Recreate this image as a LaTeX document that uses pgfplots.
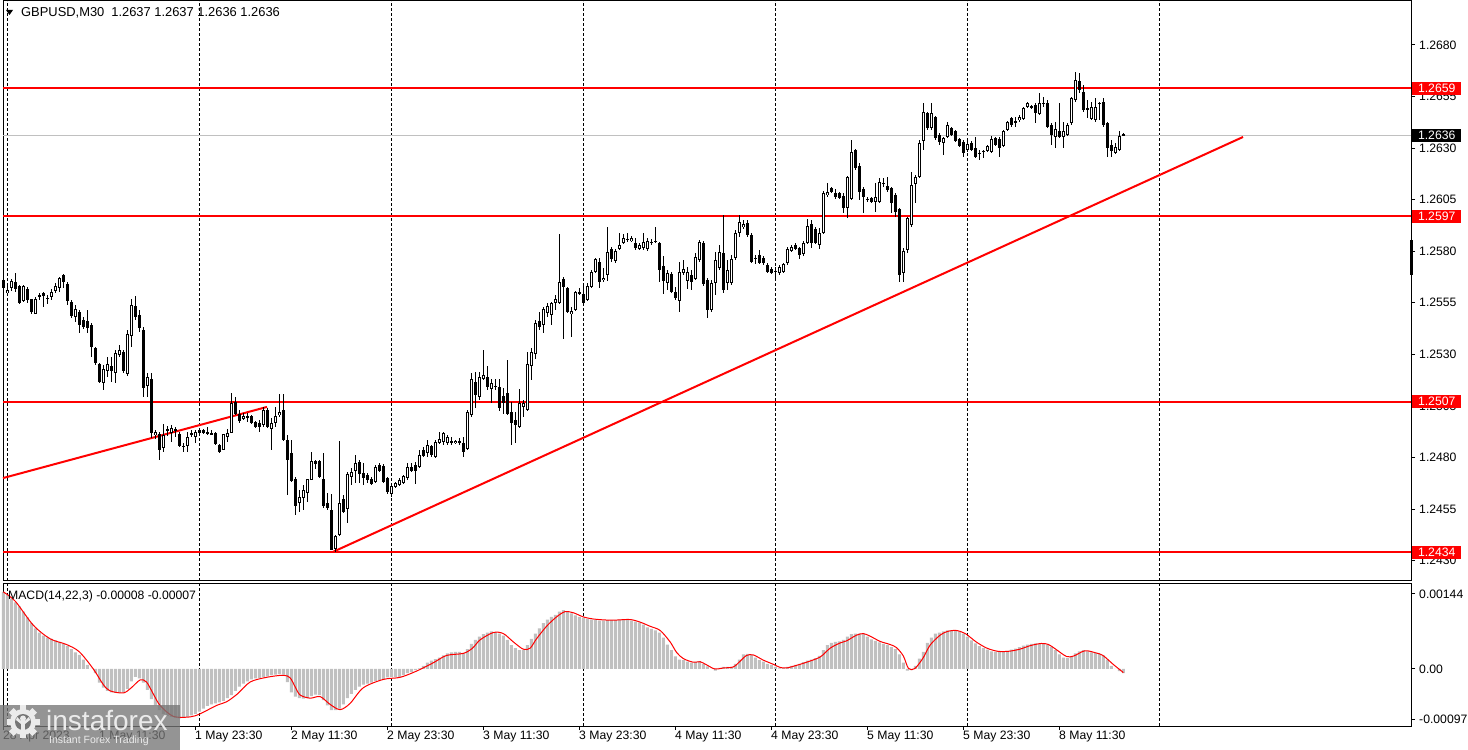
\documentclass[border=0pt]{standalone}
\usepackage{fontspec}
\setmainfont{Liberation Sans}
\usepackage{pgfplots}
\usepackage{pgfplotstable}
\pgfplotsset{compat=1.18}

\definecolor{mtred}{RGB}{255,0,0}
\definecolor{silverbar}{RGB}{192,192,192}
\definecolor{logobg}{RGB}{118,118,118}

% GBPUSD M30 bars: open high low close, and the MACD main value of each bar
\pgfplotstableread{
o h l c m
1.25661 1.25669 1.25615 1.25620 0.00148
1.25599 1.25644 1.25596 1.25612 0.00142
1.25620 1.25664 1.25609 1.25657 0.00135
1.25652 1.25693 1.25604 1.25620 0.00128
1.25631 1.25636 1.25547 1.25551 0.00120
1.25560 1.25636 1.25555 1.25631 0.00110
1.25620 1.25628 1.25551 1.25567 0.00099
1.25567 1.25572 1.25499 1.25507 0.00088
1.25499 1.25580 1.25495 1.25572 0.00078
1.25583 1.25599 1.25564 1.25588 0.00070
1.25596 1.25604 1.25531 1.25583 0.00064
1.25572 1.25588 1.25547 1.25575 0.00060
1.25580 1.25615 1.25564 1.25604 0.00058
1.25609 1.25644 1.25596 1.25631 0.00055
1.25620 1.25677 1.25604 1.25669 0.00052
1.25685 1.25690 1.25620 1.25652 0.00048
1.25644 1.25652 1.25539 1.25560 0.00044
1.25555 1.25564 1.25475 1.25486 0.00038
1.25483 1.25539 1.25458 1.25518 0.00032
1.25507 1.25515 1.25402 1.25442 0.00027
1.25467 1.25483 1.25426 1.25431 0.00018
1.25463 1.25515 1.25402 1.25431 0.00008
1.25442 1.25450 1.25289 1.25337 0.00000
1.25329 1.25337 1.25248 1.25260 -0.00008
1.25253 1.25260 1.25163 1.25168 -0.00026
1.25160 1.25248 1.25127 1.25232 -0.00036
1.25221 1.25289 1.25192 1.25253 -0.00042
1.25243 1.25289 1.25168 1.25221 -0.00045
1.25208 1.25321 1.25160 1.25308 -0.00046
1.25297 1.25345 1.25289 1.25321 -0.00046
1.25313 1.25321 1.25208 1.25221 -0.00045
1.25205 1.25418 1.25195 1.25402 -0.00038
1.25389 1.25572 1.25337 1.25539 -0.00024
1.25534 1.25583 1.25467 1.25483 -0.00015
1.25491 1.25515 1.25410 1.25426 -0.00018
1.25421 1.25434 1.25095 1.25140 -0.00026
1.25147 1.25208 1.25095 1.25192 -0.00040
1.25179 1.25208 1.24893 1.24920 -0.00058
1.24909 1.24936 1.24893 1.24923 -0.00070
1.24914 1.24925 1.24791 1.24839 -0.00079
1.24849 1.24962 1.24828 1.24909 -0.00086
1.24933 1.24952 1.24904 1.24936 -0.00090
1.24920 1.24957 1.24877 1.24941 -0.00092
1.24936 1.24949 1.24901 1.24933 -0.00094
1.24914 1.24925 1.24850 1.24856 -0.00095
1.24852 1.24872 1.24828 1.24856 -0.00094
1.24856 1.24925 1.24828 1.24898 -0.00092
1.24914 1.24933 1.24901 1.24917 -0.00089
1.24898 1.24933 1.24872 1.24923 -0.00086
1.24933 1.24936 1.24915 1.24920 -0.00082
1.24933 1.24938 1.24915 1.24920 -0.00076
1.24920 1.24946 1.24909 1.24923 -0.00071
1.24917 1.24933 1.24909 1.24917 -0.00068
1.24920 1.24925 1.24860 1.24865 -0.00066
1.24862 1.24865 1.24825 1.24828 -0.00064
1.24839 1.24914 1.24836 1.24914 -0.00061
1.24898 1.24941 1.24877 1.24917 -0.00056
1.24920 1.25111 1.24917 1.25063 -0.00050
1.25071 1.25095 1.25006 1.25014 -0.00042
1.25014 1.25030 1.24966 1.24978 -0.00034
1.24988 1.25017 1.24982 1.25001 -0.00028
1.24998 1.25017 1.24974 1.25001 -0.00024
1.25001 1.25006 1.24963 1.24966 -0.00020
1.24974 1.24978 1.24944 1.24949 -0.00018
1.24966 1.24982 1.24925 1.24949 -0.00017
1.24957 1.25046 1.24949 1.25030 -0.00015
1.25030 1.25040 1.24944 1.24949 -0.00014
1.24938 1.24990 1.24836 1.24969 -0.00012
1.24966 1.25046 1.24949 1.25001 -0.00011
1.25006 1.25111 1.24998 1.25019 -0.00010
1.25030 1.25108 1.24880 1.24885 -0.00011
1.24885 1.24909 1.24618 1.24788 -0.00025
1.24823 1.24885 1.24683 1.24687 -0.00045
1.24699 1.24707 1.24521 1.24565 -0.00053
1.24578 1.24642 1.24537 1.24610 -0.00056
1.24602 1.24666 1.24545 1.24642 -0.00057
1.24629 1.24699 1.24586 1.24694 -0.00056
1.24694 1.24828 1.24691 1.24784 -0.00052
1.24784 1.24791 1.24747 1.24771 -0.00049
1.24784 1.24791 1.24699 1.24707 -0.00050
1.24699 1.24820 1.24553 1.24565 -0.00060
1.24578 1.24626 1.24545 1.24553 -0.00070
1.24548 1.24626 1.24351 1.24355 -0.00079
1.24355 1.24424 1.24342 1.24419 -0.00079
1.24424 1.24880 1.24419 1.24579 -0.00076
1.24599 1.24618 1.24530 1.24535 -0.00068
1.24550 1.24729 1.24482 1.24720 -0.00056
1.24705 1.24749 1.24666 1.24729 -0.00048
1.24734 1.24812 1.24676 1.24773 -0.00040
1.24778 1.24788 1.24676 1.24720 -0.00034
1.24725 1.24773 1.24666 1.24700 -0.00030
1.24715 1.24725 1.24676 1.24691 -0.00028
1.24696 1.24705 1.24666 1.24671 -0.00026
1.24681 1.24763 1.24676 1.24754 -0.00023
1.24763 1.24773 1.24729 1.24734 -0.00021
1.24759 1.24768 1.24676 1.24681 -0.00019
1.24700 1.24705 1.24623 1.24632 -0.00016
1.24623 1.24676 1.24608 1.24661 -0.00015
1.24657 1.24681 1.24652 1.24676 -0.00015
1.24666 1.24700 1.24661 1.24691 -0.00015
1.24676 1.24715 1.24671 1.24710 -0.00012
1.24700 1.24773 1.24691 1.24754 -0.00008
1.24754 1.24773 1.24729 1.24734 -0.00006
1.24763 1.24778 1.24671 1.24734 -0.00002
1.24754 1.24836 1.24749 1.24812 0.00001
1.24836 1.24851 1.24802 1.24807 0.00006
1.24822 1.24885 1.24802 1.24860 0.00012
1.24856 1.24860 1.24802 1.24812 0.00016
1.24802 1.24885 1.24797 1.24875 0.00019
1.24870 1.24923 1.24865 1.24889 0.00022
1.24875 1.24923 1.24860 1.24919 0.00026
1.24870 1.24909 1.24860 1.24899 0.00030
1.24875 1.24899 1.24860 1.24875 0.00032
1.24870 1.24885 1.24865 1.24880 0.00033
1.24875 1.24894 1.24860 1.24877 0.00033
1.24870 1.24899 1.24802 1.24826 0.00031
1.24841 1.25030 1.24836 1.25020 0.00038
1.25006 1.25210 1.24996 1.25180 0.00048
1.25166 1.25214 1.25040 1.25103 0.00056
1.25093 1.25214 1.25079 1.25190 0.00062
1.25180 1.25321 1.25176 1.25200 0.00067
1.25190 1.25243 1.25127 1.25142 0.00070
1.25132 1.25180 1.25064 1.25161 0.00072
1.25147 1.25180 1.25127 1.25145 0.00071
1.25142 1.25180 1.25025 1.25040 0.00068
1.25098 1.25137 1.25011 1.25064 0.00064
1.25113 1.25273 1.25006 1.25011 0.00056
1.25020 1.25069 1.24860 1.24967 0.00046
1.24982 1.25020 1.24870 1.24957 0.00040
1.24948 1.25132 1.24943 1.25064 0.00036
1.25045 1.25079 1.24996 1.25064 0.00036
1.25030 1.25311 1.25025 1.25253 0.00046
1.25243 1.25331 1.25176 1.25311 0.00058
1.25302 1.25467 1.25278 1.25452 0.00068
1.25462 1.25505 1.25418 1.25433 0.00078
1.25442 1.25529 1.25404 1.25520 0.00088
1.25500 1.25549 1.25481 1.25534 0.00095
1.25491 1.25554 1.25442 1.25549 0.00100
1.25549 1.25588 1.25515 1.25568 0.00104
1.25549 1.25884 1.25544 1.25651 0.00110
1.25665 1.25675 1.25374 1.25627 0.00113
1.25622 1.25627 1.25500 1.25505 0.00110
1.25496 1.25529 1.25384 1.25510 0.00107
1.25515 1.25607 1.25510 1.25602 0.00103
1.25593 1.25622 1.25588 1.25602 0.00100
1.25593 1.25636 1.25544 1.25549 0.00098
1.25564 1.25646 1.25559 1.25631 0.00096
1.25627 1.25709 1.25622 1.25699 0.00095
1.25699 1.25767 1.25694 1.25762 0.00094
1.25748 1.25767 1.25622 1.25651 0.00093
1.25660 1.25719 1.25651 1.25670 0.00093
1.25685 1.25917 1.25656 1.25796 0.00094
1.25811 1.25820 1.25748 1.25762 0.00094
1.25753 1.25811 1.25743 1.25801 0.00094
1.25811 1.25888 1.25806 1.25830 0.00095
1.25840 1.25884 1.25835 1.25864 0.00095
1.25859 1.25888 1.25845 1.25857 0.00095
1.25850 1.25874 1.25845 1.25864 0.00093
1.25840 1.25864 1.25806 1.25816 0.00091
1.25811 1.25840 1.25806 1.25830 0.00089
1.25816 1.25888 1.25806 1.25845 0.00085
1.25811 1.25864 1.25801 1.25850 0.00080
1.25845 1.25859 1.25830 1.25843 0.00077
1.25850 1.25917 1.25840 1.25848 0.00074
1.25840 1.25845 1.25651 1.25709 0.00070
1.25728 1.25777 1.25593 1.25656 0.00060
1.25646 1.25709 1.25612 1.25694 0.00047
1.25690 1.25699 1.25597 1.25602 0.00036
1.25602 1.25627 1.25564 1.25573 0.00024
1.25559 1.25748 1.25505 1.25699 0.00018
1.25694 1.25757 1.25685 1.25714 0.00017
1.25656 1.25724 1.25617 1.25699 0.00014
1.25685 1.25709 1.25612 1.25651 0.00012
1.25665 1.25791 1.25660 1.25772 0.00013
1.25757 1.25854 1.25748 1.25845 0.00015
1.25840 1.25850 1.25631 1.25641 0.00010
1.25660 1.25670 1.25476 1.25515 0.00005
1.25515 1.25660 1.25505 1.25646 0.00000
1.25646 1.25796 1.25588 1.25757 -0.00003
1.25719 1.25830 1.25709 1.25796 0.00002
1.25791 1.25976 1.25597 1.25612 0.00004
1.25646 1.25757 1.25612 1.25709 0.00004
1.25646 1.25782 1.25636 1.25762 0.00004
1.25767 1.25903 1.25757 1.25888 0.00010
1.25888 1.25976 1.25869 1.25942 0.00018
1.25917 1.25952 1.25908 1.25932 0.00028
1.25937 1.25952 1.25869 1.25879 0.00029
1.25879 1.25888 1.25743 1.25748 0.00027
1.25767 1.25782 1.25738 1.25765 0.00022
1.25782 1.25806 1.25738 1.25743 0.00017
1.25767 1.25777 1.25733 1.25743 0.00014
1.25733 1.25743 1.25694 1.25699 0.00010
1.25714 1.25724 1.25690 1.25694 0.00008
1.25704 1.25724 1.25660 1.25702 0.00004
1.25694 1.25733 1.25685 1.25724 0.00001
1.25699 1.25743 1.25694 1.25738 0.00002
1.25743 1.25820 1.25733 1.25811 0.00004
1.25801 1.25830 1.25796 1.25820 0.00006
1.25830 1.25840 1.25806 1.25811 0.00008
1.25816 1.25820 1.25762 1.25782 0.00010
1.25787 1.25850 1.25777 1.25840 0.00013
1.25840 1.25956 1.25835 1.25922 0.00016
1.25932 1.25952 1.25816 1.25840 0.00018
1.25908 1.25917 1.25835 1.25840 0.00021
1.25830 1.25913 1.25811 1.25888 0.00025
1.25888 1.26092 1.25884 1.26082 0.00036
1.26073 1.26131 1.26063 1.26087 0.00046
1.26107 1.26112 1.26082 1.26087 0.00050
1.26082 1.26102 1.26053 1.26063 0.00052
1.26082 1.26087 1.26053 1.26058 0.00053
1.26068 1.26082 1.25985 1.26010 0.00056
1.26010 1.26165 1.25961 1.26160 0.00062
1.26053 1.26339 1.26048 1.26281 0.00067
1.26291 1.26296 1.26194 1.26204 0.00068
1.26213 1.26228 1.26048 1.26087 0.00068
1.26102 1.26112 1.25985 1.26063 0.00068
1.26053 1.26063 1.26039 1.26051 0.00062
1.26058 1.26063 1.26034 1.26039 0.00057
1.26039 1.26131 1.25990 1.26063 0.00054
1.26039 1.26155 1.26034 1.26136 0.00051
1.26131 1.26155 1.26112 1.26129 0.00048
1.26116 1.26160 1.26087 1.26097 0.00046
1.26107 1.26112 1.25985 1.26034 0.00042
1.26073 1.26082 1.25966 1.25990 0.00038
1.26005 1.26010 1.25651 1.25685 0.00028
1.25694 1.25816 1.25651 1.25801 0.00012
1.25806 1.25966 1.25791 1.25961 -0.00003
1.25927 1.26184 1.25917 1.26121 -0.00002
1.26126 1.26170 1.26034 1.26160 0.00006
1.26160 1.26339 1.26155 1.26325 0.00020
1.26335 1.26519 1.26291 1.26475 0.00033
1.26470 1.26475 1.26388 1.26398 0.00050
1.26398 1.26519 1.26388 1.26470 0.00060
1.26451 1.26456 1.26339 1.26349 0.00068
1.26364 1.26373 1.26315 1.26330 0.00070
1.26325 1.26354 1.26267 1.26349 0.00072
1.26354 1.26427 1.26349 1.26412 0.00074
1.26398 1.26402 1.26359 1.26364 0.00074
1.26383 1.26388 1.26330 1.26335 0.00074
1.26344 1.26349 1.26305 1.26310 0.00072
1.26330 1.26339 1.26257 1.26276 0.00068
1.26291 1.26339 1.26281 1.26320 0.00062
1.26325 1.26335 1.26286 1.26291 0.00055
1.26301 1.26354 1.26252 1.26257 0.00049
1.26276 1.26291 1.26242 1.26274 0.00044
1.26286 1.26291 1.26252 1.26284 0.00040
1.26286 1.26315 1.26281 1.26310 0.00037
1.26281 1.26359 1.26276 1.26344 0.00034
1.26349 1.26354 1.26310 1.26315 0.00033
1.26344 1.26354 1.26257 1.26301 0.00033
1.26310 1.26388 1.26305 1.26383 0.00034
1.26388 1.26431 1.26383 1.26427 0.00035
1.26446 1.26451 1.26402 1.26412 0.00037
1.26422 1.26451 1.26402 1.26431 0.00039
1.26436 1.26461 1.26427 1.26451 0.00042
1.26441 1.26499 1.26436 1.26495 0.00045
1.26499 1.26524 1.26495 1.26519 0.00047
1.26504 1.26509 1.26490 1.26495 0.00048
1.26509 1.26519 1.26422 1.26470 0.00049
1.26465 1.26567 1.26461 1.26519 0.00049
1.26519 1.26548 1.26499 1.26517 0.00048
1.26519 1.26533 1.26398 1.26402 0.00046
1.26412 1.26422 1.26315 1.26364 0.00042
1.26354 1.26427 1.26301 1.26393 0.00036
1.26383 1.26519 1.26349 1.26354 0.00028
1.26354 1.26427 1.26301 1.26383 0.00022
1.26364 1.26422 1.26359 1.26412 0.00021
1.26422 1.26548 1.26412 1.26543 0.00024
1.26533 1.26669 1.26524 1.26630 0.00030
1.26625 1.26664 1.26567 1.26582 0.00034
1.26572 1.26606 1.26475 1.26485 0.00036
1.26495 1.26533 1.26446 1.26485 0.00034
1.26441 1.26524 1.26436 1.26499 0.00032
1.26436 1.26543 1.26427 1.26499 0.00031
1.26519 1.26524 1.26436 1.26517 0.00029
1.26524 1.26543 1.26402 1.26412 0.00026
1.26422 1.26427 1.26257 1.26301 0.00018
1.26315 1.26339 1.26257 1.26286 0.00006
1.26276 1.26325 1.26271 1.26305 0.00000
1.26291 1.26383 1.26286 1.26359 -0.00004
1.26370 1.26372 1.26358 1.26360 -0.00008
}\bars

% MACD signal line, read at bar positions
\pgfplotstableread{
k s
0 0.00148
3 0.00130
7.5 0.00084
11.7 0.00058
15.8 0.00047
19 0.00033
22.5 0.00000
25 -0.00030
26.7 -0.00042
30 -0.00046
32 -0.00036
34.2 -0.00021
35.8 -0.00025
37.5 -0.00048
39.2 -0.00070
42.5 -0.00091
46.7 -0.00092
49.2 -0.00086
53.3 -0.00070
55.8 -0.00063
58.5 -0.00048
61.7 -0.00025
65.8 -0.00016
70 -0.00012
71.7 -0.00017
73 -0.00035
74.2 -0.00050
76.7 -0.00056
79.2 -0.00053
81.7 -0.00068
84.2 -0.00078
86.7 -0.00066
90 -0.00036
95 -0.00020
99.2 -0.00016
103.3 -0.00004
107.5 0.00012
110.8 0.00026
115 0.00030
117.3 0.00040
119.2 0.00056
122.5 0.00070
125 0.00068
127.5 0.00052
130 0.00038
131.7 0.00040
133.3 0.00058
135.8 0.00082
138.3 0.00100
140.4 0.00110
142.5 0.00108
145 0.00100
147.5 0.00096
150.8 0.00094
153.3 0.00094
156.7 0.00095
159.2 0.00090
161.7 0.00082
164.2 0.00074
166.7 0.00052
168.3 0.00032
170 0.00020
172.5 0.00013
174.2 0.00014
175.8 0.00008
177.9 0.00000
180 0.00002
182.5 0.00004
184.2 0.00015
185.8 0.00026
187.5 0.00027
190 0.00017
192.5 0.00009
194.2 0.00003
195.8 0.00002
198.3 0.00007
200.8 0.00013
204.2 0.00023
206.7 0.00040
209.2 0.00050
210.8 0.00054
213.3 0.00065
215 0.00068
216.7 0.00063
219.2 0.00053
221.7 0.00047
223.3 0.00041
225 0.00025
226.3 0.00001
227.9 0.00001
230 0.00022
231.7 0.00046
234.2 0.00065
236 0.00072
238.2 0.00074
240.5 0.00068
243.2 0.00052
245.9 0.00040
248.6 0.00034
251.3 0.00034
254.1 0.00038
256.8 0.00045
259.5 0.00049
261.3 0.00047
263.1 0.00038
265.8 0.00024
267.6 0.00025
270.4 0.00035
273.1 0.00031
274.9 0.00026
277.6 0.00008
279.4 -0.00003
280 -0.00007
}\signal

\tikzset{
  pricebox/.style={anchor=west, text=white, inner xsep=5bp, inner ysep=0pt,
    minimum height=13bp, minimum width=49bp},
}
\pgfplotsset{
  mtpanel/.style={
    scale only axis, width=1408bp, xmin=3, xmax=1411,
    axis line style={black, line width=1bp},
    ytick pos=right, yticklabel pos=right,
    tick align=outside, major tick length=4bp,
    tick style={black, line width=1bp},
    tick label style={font=\fontsize{12.2bp}{14bp}\selectfont},
    yticklabel style={anchor=west, inner sep=0pt, xshift=4bp},
    scaled y ticks=false,
    extra x ticks={7,199,391,583,775,967,1159},
    extra x tick labels={},
    extra x tick style={grid=major, major tick length=0pt},
    major grid style={black, line width=0.8bp, dash pattern=on 3bp off 2bp},
    clip=false,
  },
  candle/.style={draw=none, mark=none, forget plot,
    error bars/y dir=both, error bars/y explicit, error bars/error mark=none},
}

\begin{document}
\begin{tikzpicture}[font=\fontsize{12.2bp}{14bp}\selectfont]
\useasboundingbox (0,0) rectangle (1468bp,750bp);
\fill[white] (0,0) rectangle (1468bp,750bp);

% price window
\begin{axis}[mtpanel, at={(3bp,169bp)}, anchor=south west, height=580bp,
  ymin=1.242009, ymax=1.270134, xtick=\empty,
  ytick={1.2430,1.2455,1.2480,1.2505,1.2530,1.2555,1.2580,1.2605,1.2630,1.2655,1.2680},
  yticklabels={1.2430,1.2455,1.2480,1.2505,1.2530,1.2555,1.2580,1.2605,1.2630,1.2655,1.2680},
]
\addplot[silverbar, line width=1bp, forget plot] coordinates {(3,1.2636) (1411,1.2636)};
\addplot[mtred, line width=2bp, forget plot] coordinates {(3,1.2659) (1411,1.2659)};
\addplot[mtred, line width=2bp, forget plot] coordinates {(3,1.2597) (1411,1.2597)};
\addplot[mtred, line width=2bp, forget plot] coordinates {(3,1.2507) (1411,1.2507)};
\addplot[mtred, line width=2bp, forget plot] coordinates {(3,1.2434) (1411,1.2434)};
\addplot[mtred, line width=2bp, forget plot] coordinates {(3,1.24700) (267,1.25045)};
\addplot[mtred, line width=2bp, forget plot] coordinates {(333,1.24342) (1243,1.26354)};

% wicks
\addplot[candle, error bars/error bar style={draw=black, line width=1bp, solid}]
  table[x expr=3.33+4*\coordindex, y expr=(\thisrow{h}+\thisrow{l})/2,
        y error expr=(\thisrow{h}-\thisrow{l})/2] {\bars};
% bodies
\addplot[candle, error bars/error bar style={draw=black, line width=3bp, line cap=butt, solid}]
  table[x expr=3.33+4*\coordindex, y expr=(\thisrow{o}+\thisrow{c})/2,
        y error expr={max(abs(\thisrow{o}-\thisrow{c})/2,0.000025)}] {\bars};
% hollow inside of rising bars
\addplot[candle, error bars/error bar style={draw=white, line width=1bp, line cap=butt, solid}]
  table[x expr=3.33+4*\coordindex, y expr=(\thisrow{o}+\thisrow{c})/2,
        y error expr={max((\thisrow{c}-\thisrow{o})/2-0.0000485,0)}] {\bars};

\addplot[black, line width=3bp, forget plot] coordinates {(1411,1.25854) (1411,1.25685)};

\node[pricebox, fill=mtred] at (axis cs:1412,1.2659) {1.2659};
\node[pricebox, fill=black] at (axis cs:1412,1.2636) {1.2636};
\node[pricebox, fill=mtred] at (axis cs:1412,1.2597) {1.2597};
\node[pricebox, fill=mtred] at (axis cs:1412,1.2507) {1.2507};
\node[pricebox, fill=mtred] at (axis cs:1412,1.2434) {1.2434};
\end{axis}

% MACD window
\begin{axis}[mtpanel, at={(3bp,24bp)}, anchor=south west, height=142bp,
  ymin=-0.0010944, ymax=0.001632,
  ytick={0.00144,0,-0.00097}, yticklabels={0.00144,0.00,-0.00097},
  xtick pos=left,
  xtick={3,99,195,291,387,483,579,675,771,867,963,1059},
  xticklabels={28 Apr 2023,1 May 11:30,1 May 23:30,2 May 11:30,2 May 23:30,3 May 11:30,3 May 23:30,4 May 11:30,4 May 23:30,5 May 11:30,5 May 23:30,8 May 11:30},
  xticklabel style={anchor=north west, inner sep=0pt, yshift=-1bp},
]
\addplot[ybar, bar width=3, fill=silverbar, draw=none, forget plot]
  table[x expr=3.33+4*\coordindex, y=m] {\bars};
\addplot[mtred, line width=1bp, smooth, forget plot]
  table[x expr=3.33+4*\thisrow{k}, y=s] {\signal};
\end{axis}

% window captions
\fill[black] (6bp,740bp) -- (13bp,740bp) -- (9.5bp,735bp) -- cycle;
\node[anchor=west, inner sep=0pt, font=\fontsize{12.9bp}{14bp}\selectfont] at (21bp,737bp) {GBPUSD,M30\hspace{7bp}1.2637 1.2637 1.2636 1.2636};
\node[anchor=west, inner sep=0pt] at (8bp,154bp) {MACD(14,22,3) -0.00008 -0.00007};

% instaforex badge
\fill[logobg, opacity=0.78] (0,0) rectangle (180bp,45bp);
\begin{scope}[shift={(23bp,28bp)}]
  \foreach \a in {0,45,...,315}
    \fill[white!92!black, rotate=\a] (-3.2bp,10bp) rectangle (3.2bp,16.5bp);
  \fill[white!92!black] (0,0) circle (13bp);
  \fill[logobg] (0,0) circle (8bp);
  \fill[white!92!black] (0,3.5bp) circle (3bp);
  \fill[white!92!black] (-2bp,-8bp) rectangle (2bp,1bp);
  \fill[white!92!black] (-7bp,2bp) -- (-2bp,-2bp) -- (-2bp,1bp) -- (-6bp,5bp) -- cycle;
  \fill[white!92!black] (7bp,2bp) -- (2bp,-2bp) -- (2bp,1bp) -- (6bp,5bp) -- cycle;
\end{scope}
\node[anchor=base west, inner sep=0pt, text=white!92!black, font=\fontsize{28bp}{30bp}\selectfont] at (46bp,20bp) {instaforex};
\node[anchor=base west, inner sep=0pt, text=white!92!black, font=\fontsize{10.5bp}{12bp}\selectfont] at (49bp,7bp) {Instant Forex Trading};
\end{tikzpicture}
\end{document}
